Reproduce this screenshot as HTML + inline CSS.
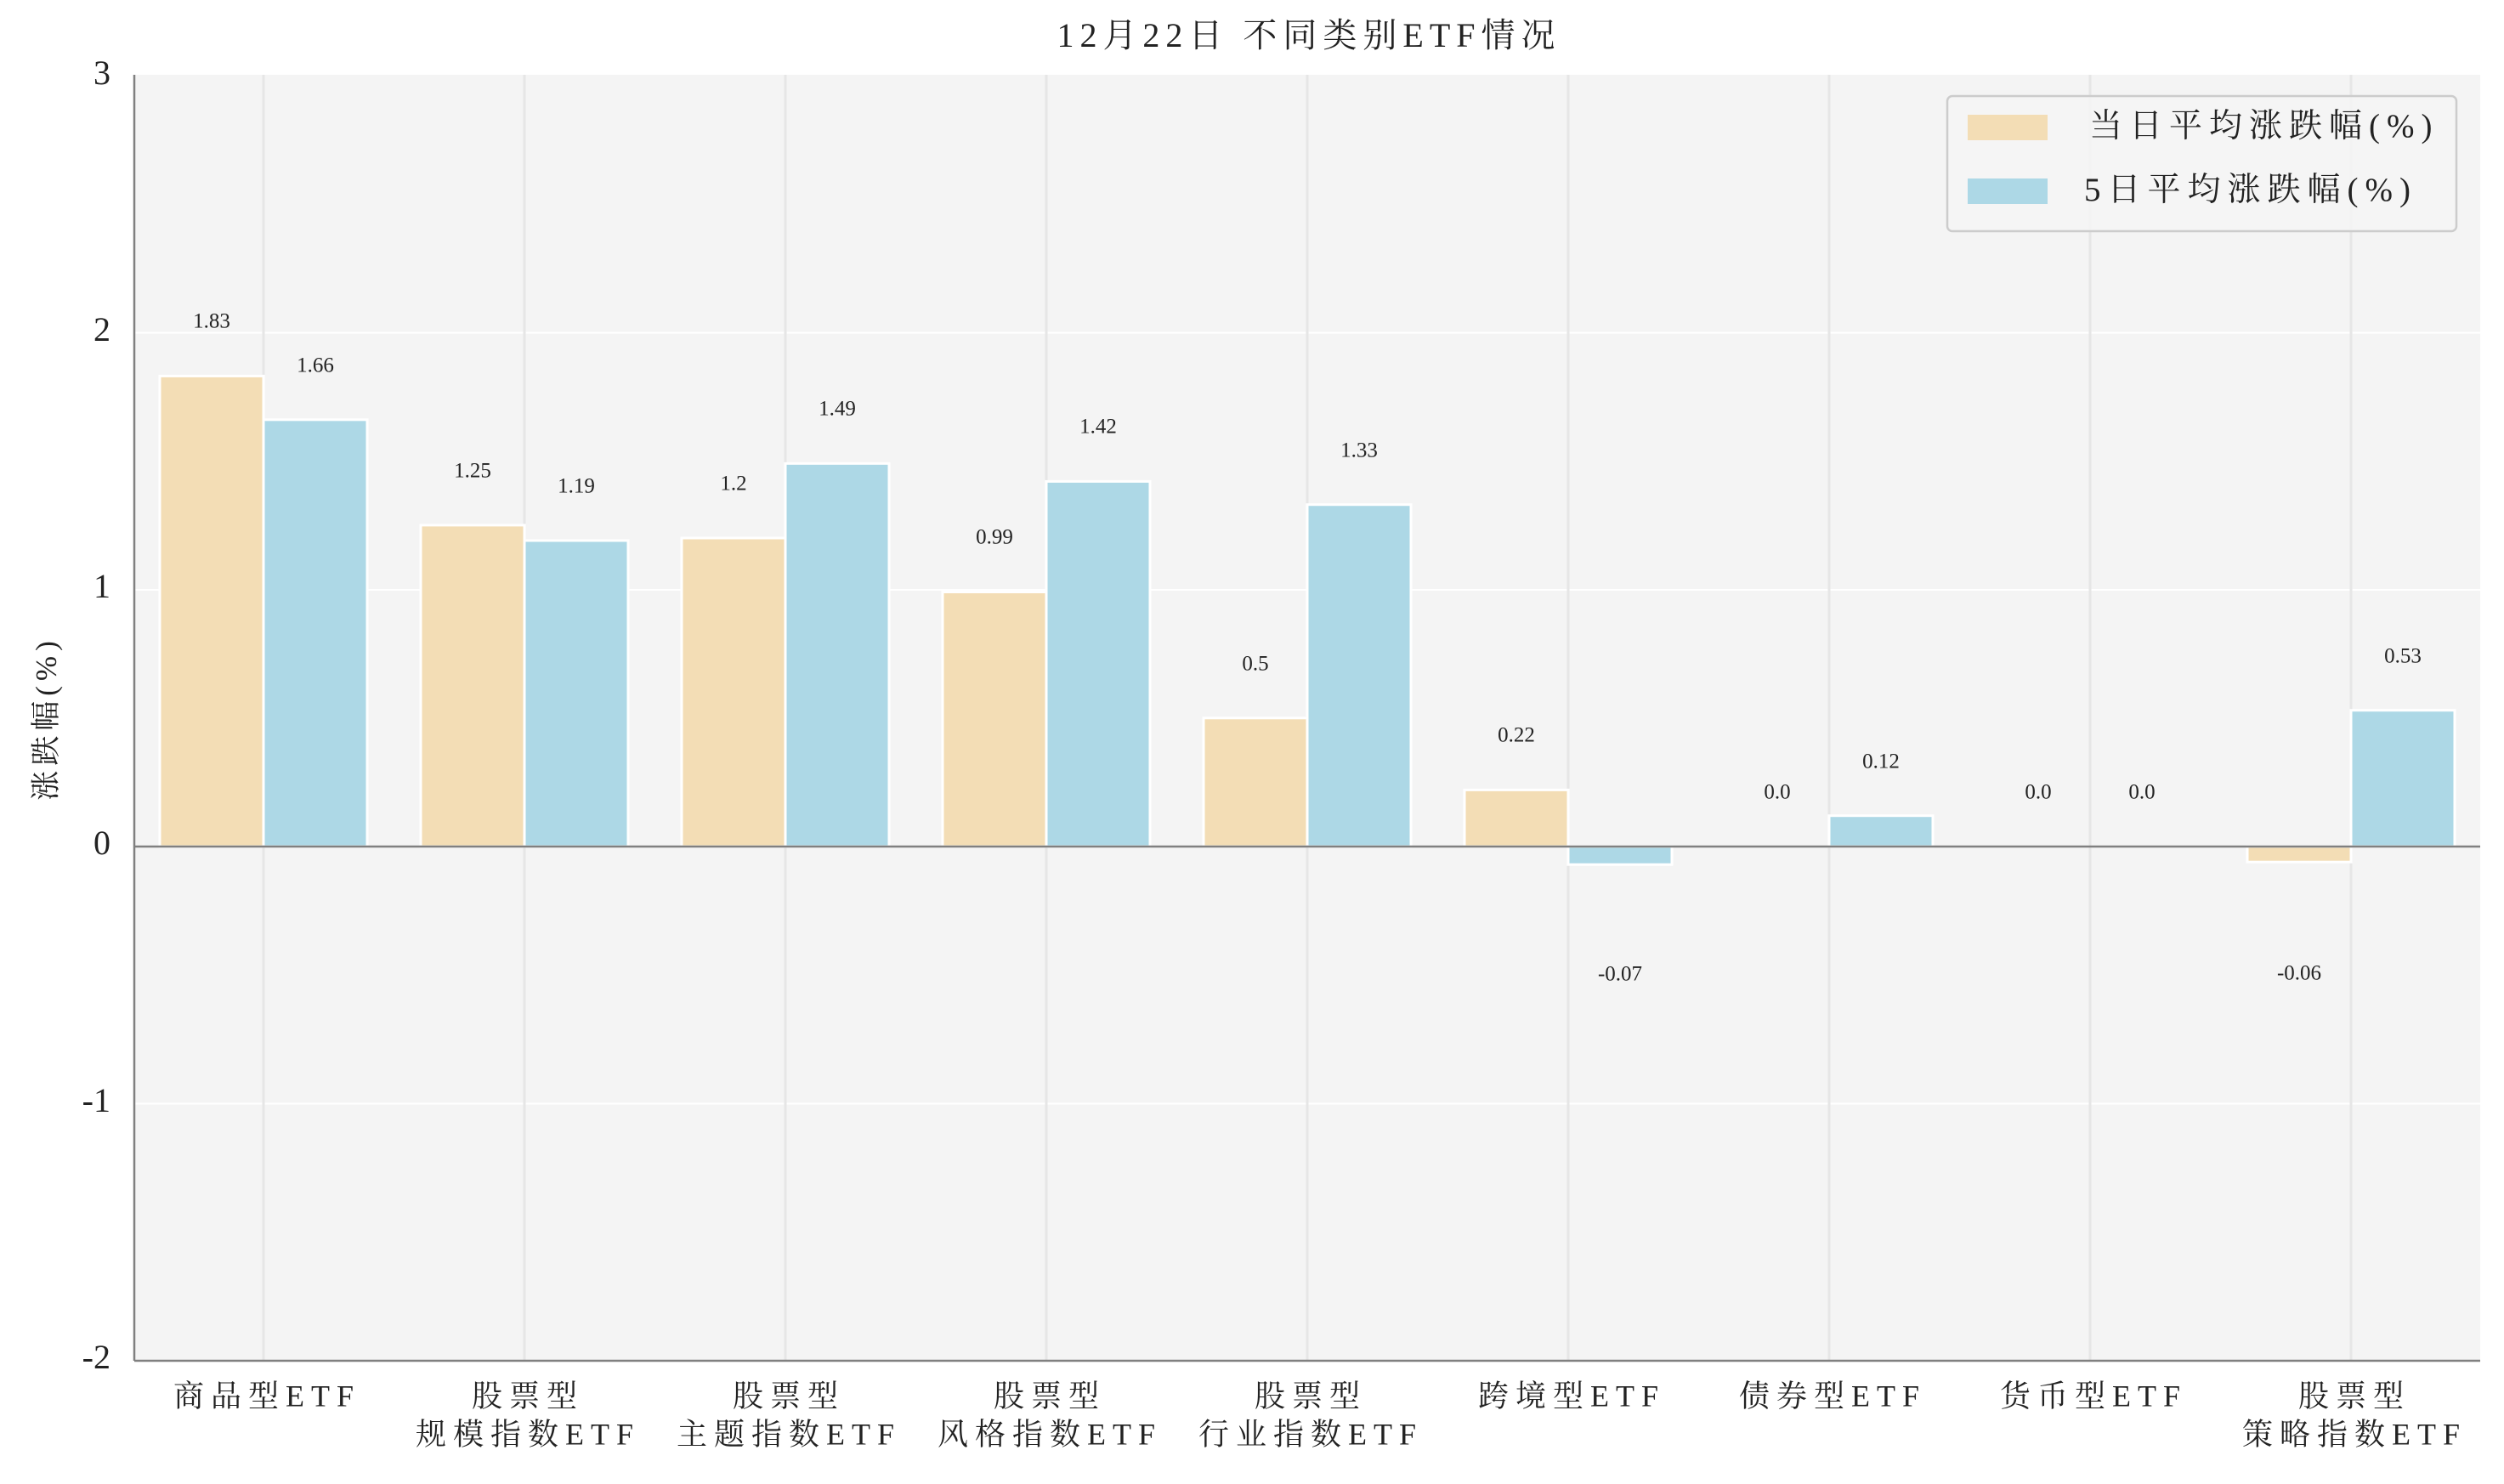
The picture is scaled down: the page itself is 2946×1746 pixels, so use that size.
<!DOCTYPE html>
<html><head><meta charset="utf-8"><style>
html,body{margin:0;padding:0;background:#fff;}
svg{display:block;font-family:"Liberation Serif","Noto Serif CJK SC",serif;}
</style></head><body>
<svg width="2946" height="1746" viewBox="0 0 2946 1746" xmlns="http://www.w3.org/2000/svg">
<rect x="0" y="0" width="2946" height="1746" fill="#fff"/>
<text x="1540" y="46" font-size="40" letter-spacing="7" text-anchor="middle" dominant-baseline="middle" fill="#222">12月22日 不同类别ETF情况</text>
<rect x="158" y="88" width="2760" height="1513" fill="#f4f4f4"/>
<g stroke="#fff" stroke-width="2">
<line x1="158" y1="391.5" x2="2918" y2="391.5"/>
<line x1="158" y1="694" x2="2918" y2="694"/>
<line x1="158" y1="1298.5" x2="2918" y2="1298.5"/>
</g>
<g stroke="#e6e6e6" stroke-width="3">
<line x1="310" y1="88" x2="310" y2="1601"/><line x1="617" y1="88" x2="617" y2="1601"/>
<line x1="924" y1="88" x2="924" y2="1601"/><line x1="1231" y1="88" x2="1231" y2="1601"/>
<line x1="1538" y1="88" x2="1538" y2="1601"/><line x1="1845" y1="88" x2="1845" y2="1601"/>
<line x1="2152" y1="88" x2="2152" y2="1601"/><line x1="2459" y1="88" x2="2459" y2="1601"/>
<line x1="2766" y1="88" x2="2766" y2="1601"/>
</g>
<g stroke="#fff" stroke-width="3">
<g fill="#f3ddb5">
<rect x="188" y="442.4" width="122" height="553.6"/>
<rect x="495" y="617.9" width="122" height="378.1"/>
<rect x="802" y="633" width="122" height="363"/>
<rect x="1109" y="696.5" width="122" height="299.5"/>
<rect x="1416" y="844.8" width="122" height="151.2"/>
<rect x="1723" y="929.4" width="122" height="66.6"/>
<rect x="2644" y="996" width="122" height="18.2"/>
</g>
<g fill="#add8e6">
<rect x="310" y="493.8" width="122" height="502.2"/>
<rect x="617" y="636" width="122" height="360"/>
<rect x="924" y="545.3" width="122" height="450.7"/>
<rect x="1231" y="566.4" width="122" height="429.6"/>
<rect x="1538" y="593.7" width="122" height="402.3"/>
<rect x="1845" y="996" width="122" height="21.2"/>
<rect x="2152" y="959.7" width="122" height="36.3"/>
<rect x="2766" y="835.7" width="122" height="160.3"/>
</g>
</g>
<line x1="158" y1="996" x2="2918" y2="996" stroke="#808080" stroke-width="2.5"/>
<line x1="158" y1="88" x2="158" y2="1601" stroke="#808080" stroke-width="2.5"/>
<line x1="158" y1="1601" x2="2918" y2="1601" stroke="#808080" stroke-width="2.5"/>
<g font-size="25" fill="#222" text-anchor="middle" dominant-baseline="middle">
<text x="249" y="380">1.83</text><text x="371" y="432">1.66</text>
<text x="556" y="556">1.25</text><text x="678" y="574">1.19</text>
<text x="863" y="571">1.2</text><text x="985" y="483">1.49</text>
<text x="1170" y="634">0.99</text><text x="1292" y="504">1.42</text>
<text x="1477" y="783">0.5</text><text x="1599" y="532">1.33</text>
<text x="1784" y="867">0.22</text><text x="1906" y="1148">-0.07</text>
<text x="2091" y="934">0.0</text><text x="2213" y="898">0.12</text>
<text x="2398" y="934">0.0</text><text x="2520" y="934">0.0</text>
<text x="2705" y="1147">-0.06</text><text x="2827" y="774">0.53</text>
</g>
<g font-size="40" fill="#222" text-anchor="end" dominant-baseline="middle">
<text x="130" y="90">3</text><text x="130" y="392">2</text><text x="130" y="694">1</text>
<text x="130" y="996">0</text><text x="130" y="1299">-1</text><text x="130" y="1601">-2</text>
</g>
<text transform="translate(58,845) rotate(-90)" font-size="35" letter-spacing="6" fill="#222" text-anchor="middle" dominant-baseline="middle">涨跌幅(%)</text>
<g font-size="36" letter-spacing="8" fill="#222" text-anchor="middle" dominant-baseline="middle">
<text x="314" y="1646">商品型ETF</text>
<text x="621" y="1646">股票型</text><text x="621" y="1691">规模指数ETF</text>
<text x="928" y="1646">股票型</text><text x="928" y="1691">主题指数ETF</text>
<text x="1235" y="1646">股票型</text><text x="1235" y="1691">风格指数ETF</text>
<text x="1542" y="1646">股票型</text><text x="1542" y="1691">行业指数ETF</text>
<text x="1849" y="1646">跨境型ETF</text>
<text x="2156" y="1646">债券型ETF</text>
<text x="2463" y="1646">货币型ETF</text>
<text x="2770" y="1646">股票型</text><text x="2770" y="1691">策略指数ETF</text>
</g>
<rect x="2291" y="113" width="599" height="159" rx="6" fill="#f4f4f4" fill-opacity="0.85" stroke="#ccc" stroke-width="2.5"/>
<rect x="2315" y="135" width="94" height="30" fill="#f3ddb5"/>
<rect x="2315" y="210" width="94" height="30" fill="#add8e6"/>
<g font-size="39" letter-spacing="8" fill="#222" dominant-baseline="middle">
<text x="2458" y="152">当日平均涨跌幅(%)</text>
<text x="2452" y="227">5日平均涨跌幅(%)</text>
</g>
</svg>
</body></html>
